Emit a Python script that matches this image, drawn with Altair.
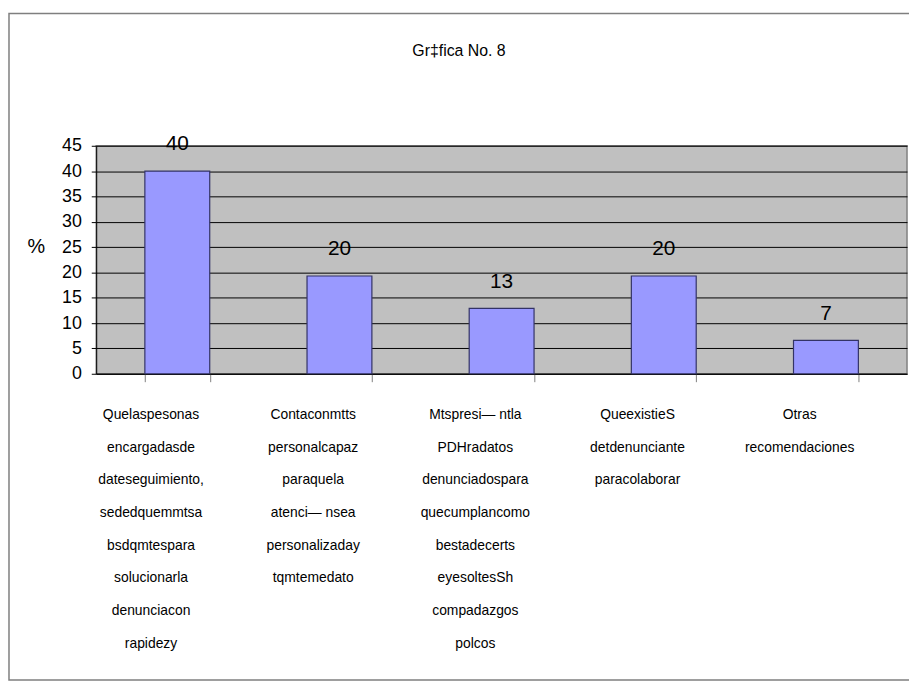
import altair as alt
import pandas as pd

# ---- data ----
category_lines = [
    ["Quelaspesonas", "encargadasde", "dateseguimiento,", "sededquemmtsa",
     "bsdqmtespara", "solucionarla", "denunciacon", "rapidezy"],
    ["Contaconmtts", "personalcapaz", "paraquela", "atenci\u2014 nsea",
     "personalizaday", "tqmtemedato"],
    ["Mtspresi\u2014  ntla", "PDHradatos", "denunciadospara", "quecumplancomo",
     "bestadecerts", "eyesoltesSh", "compadazgos", "polcos"],
    ["QueexistieS", "detdenunciante", "paracolaborar"],
    ["Otras", "recomendaciones"],
]
bar_values = [40, 19.3, 12.9, 19.3, 6.6]
value_labels = ["40", "20", "13", "20", "7"]
y_ticks = [0, 5, 10, 15, 20, 25, 30, 35, 40, 45]
chart_title = "Gr\u2021fica No. 8"
y_title = "%"

df = pd.DataFrame({
    "cat": ["|".join(lines) for lines in category_lines],
    "value": bar_values,
    "label": value_labels,
})
one = pd.DataFrame({"k": [0]})

FONT = "Liberation Sans"

x = alt.X(
    "cat:N", sort=None,
    scale=alt.Scale(paddingInner=0.6, paddingOuter=0.3),
    axis=alt.Axis(
        title=None, labelAngle=0, labelExpr="split(datum.label, '|')",
        labelFont=FONT, labelFontSize=14, labelLineHeight=33,
        labelBaseline="alphabetic", labelPadding=37, labelOffset=-27,
        labelOverlap=False, labelLimit=0, labelFlush=False, labelColor="black",
        tickSize=8, tickBand="extent", tickColor="#808080",
        domainColor="black", grid=False,
    ),
)
y = alt.Y(
    "value:Q",
    scale=alt.Scale(domain=[0, 45], nice=False),
    axis=alt.Axis(
        values=y_ticks, title=y_title, titleAngle=0, titleX=-61, titleY=102,
        titleAlign="center", titleBaseline="middle", titleFont=FONT,
        titleFontSize=20, titleFontWeight="normal", titleColor="black",
        labelFont=FONT, labelFontSize=18, labelPadding=10, labelColor="black",
        tickSize=5, tickColor="black", domainColor="black",
        grid=True, gridColor="black", gridOpacity=1,
    ),
)

bars = alt.Chart(df).mark_bar(
    color="#9999FF", stroke="#333366", strokeWidth=1.2
).encode(x=x, y=y)

labels = alt.Chart(df).mark_text(
    baseline="alphabetic", dy=-21, font=FONT, fontSize=21, color="black"
).encode(x=x, y=y, text="label:N")

frame = alt.Chart(one).mark_rect(
    fillOpacity=0, stroke="#7f7f7f", strokeWidth=1.5
).encode(
    x=alt.value(-88), x2=alt.value(840),
    y=alt.value(-133.5), y2=alt.value(539),
)

title = alt.Chart(one).mark_text(
    text=chart_title, font=FONT, fontSize=16, color="black",
    align="center", baseline="alphabetic",
).encode(x=alt.value(366), y=alt.value(-91))

chart = alt.layer(frame, bars, labels, title).properties(
    width=818, height=230,
    autosize=alt.AutoSizeParams(type="none"),
    padding={"left": 89, "top": 136, "right": 2, "bottom": 311},
    background="white",
).configure_view(
    fill="#C0C0C0", stroke="#808080", strokeWidth=1.5,
)

chart.save("out.html", embed_options={"renderer": "svg", "actions": False})
